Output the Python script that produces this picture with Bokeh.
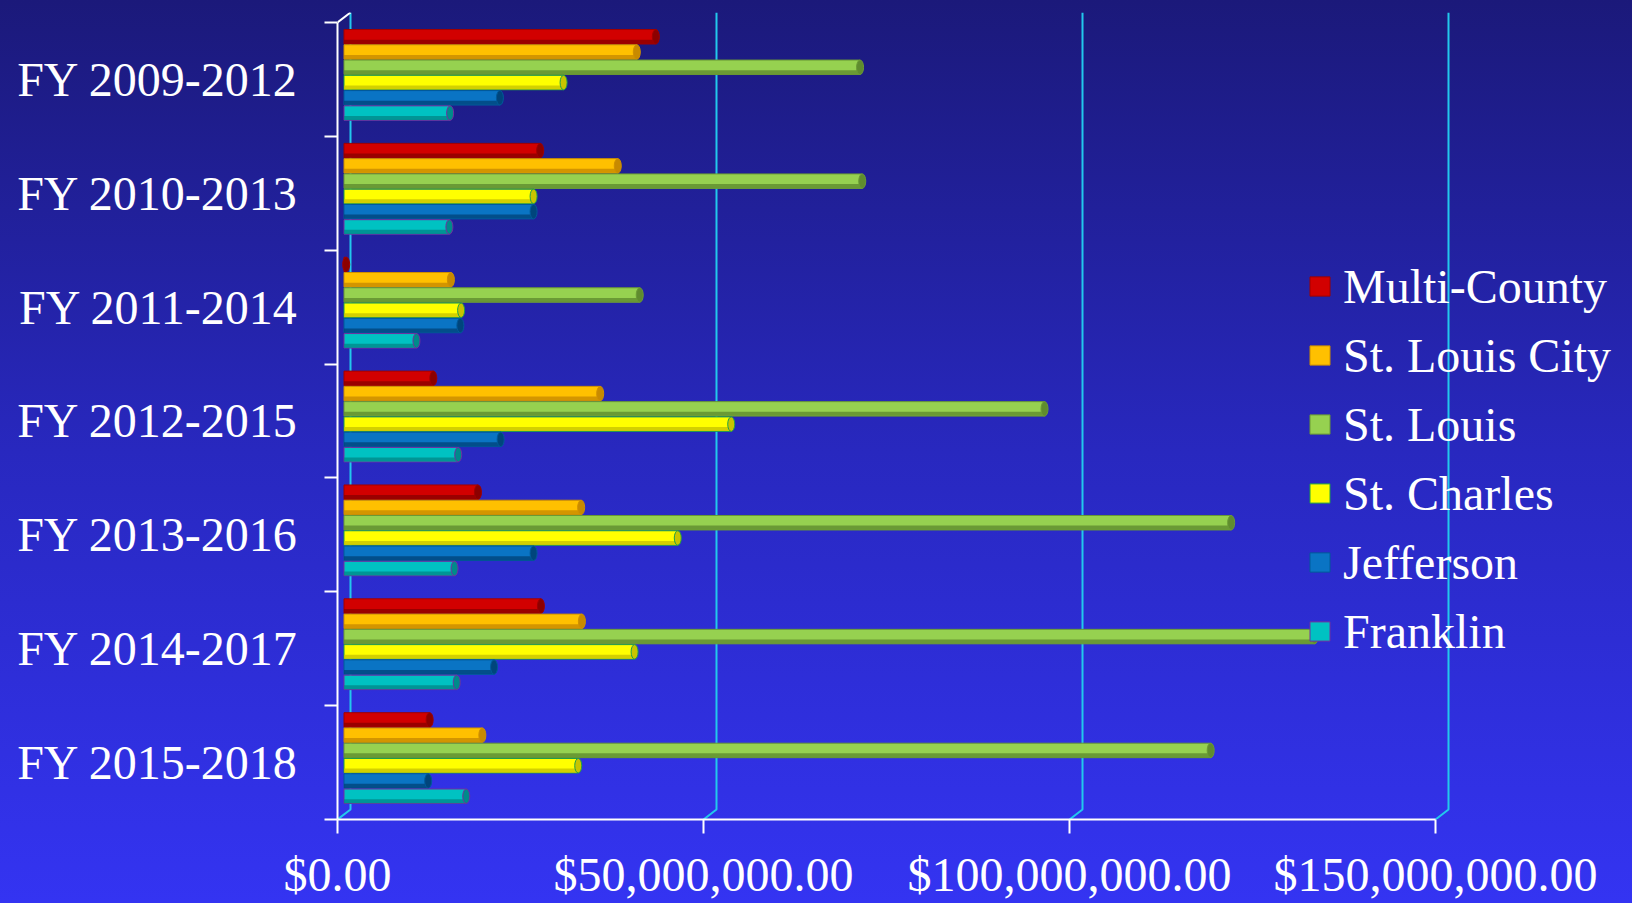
import numpy as np
from bokeh.plotting import figure
from bokeh.models import (ColumnDataSource, Range1d, LinearAxis, FixedTicker,
                          NumeralTickFormatter, Legend, LegendItem, GlobalInlineStyleSheet)
from bokeh.embed import file_html
from bokeh.resources import INLINE

# ---------------- data ----------------
categories = ["FY 2009-2012", "FY 2010-2013", "FY 2011-2014", "FY 2012-2015",
              "FY 2013-2016", "FY 2014-2017", "FY 2015-2018"]
series_names = ["Multi-County", "St. Louis City", "St. Louis", "St. Charles", "Jefferson", "Franklin"]
multi_county = [42.6e6, 26.8e6, 0.3e6, 12.2e6, 18.3e6, 26.9e6, 11.7e6]
st_louis_city = [40.0e6, 37.4e6, 14.6e6, 35.0e6, 32.4e6, 32.5e6, 18.9e6]
st_louis = [70.5e6, 70.8e6, 40.4e6, 95.7e6, 121.2e6, 132.6e6, 118.4e6]
st_charles = [30.0e6, 25.9e6, 16.0e6, 52.9e6, 45.6e6, 39.7e6, 32.0e6]
jefferson = [21.3e6, 25.9e6, 15.9e6, 21.4e6, 25.9e6, 20.5e6, 11.5e6]
franklin = [14.5e6, 14.4e6, 9.9e6, 15.6e6, 15.1e6, 15.4e6, 16.7e6]
x_ticks = [0, 50_000_000, 100_000_000, 150_000_000]

series_values = [multi_county, st_louis_city, st_louis, st_charles, jefferson, franklin]
fill_colors = ["#d20000", "#ffc000", "#96d150", "#ffff00", "#0a74c4", "#00c2c2"]
shade_colors = ["#8c0000", "#c88a00", "#5f8c2e", "#c8c400", "#00457c", "#008a8a"]
line_colors = ["#a00000", "#d09000", "#6a9a35", "#1f9e4a", "#005a9a", "#7030a0"]

# ---------------- layout ----------------
W, H = 1632, 903
FRAME_L, FRAME_R, FRAME_T, FRAME_B = 337, W, 12, 821
AX_TOP = 22
n = len(categories)
sx = (1435 - FRAME_L) / x_ticks[-1]          # px per dollar
X_END = (FRAME_R - FRAME_L) / sx
sy = (FRAME_B - AX_TOP) / n                   # px per category band
Y_END = n + (AX_TOP - FRAME_T) / sy
dxb = 13 / sx        # depth offset (back wall), x
dyb = 10 / sy        # depth offset (back wall), y

pitch = 15.3 / sy
bh = 14.5 / sy
group_shift = 4.5 / sy

grad = "linear-gradient(180deg, #1b197a 0%, #2828bf 50%, #3434f2 100%)"
css = GlobalInlineStyleSheet(css=(
    "html, body {margin:0 !important; padding:0; overflow:hidden; height:100%;"
    " background:" + grad + ";}"))

p = figure(width=W, height=H, x_range=Range1d(0, X_END), y_range=Range1d(0, Y_END),
           output_backend="svg", toolbar_location=None,
           x_axis_type=None, y_axis_type=None,
           min_border_left=FRAME_L, min_border_right=W - FRAME_R,
           min_border_top=FRAME_T, min_border_bottom=H - FRAME_B)
p.stylesheets = [css]
p.styles = {"background": grad}
p.background_fill_alpha = 0
p.border_fill_alpha = 0
p.outline_line_color = None
p.extra_x_ranges = {"mid": Range1d(-dxb / 2, X_END - dxb / 2)}

# gridlines on back wall with 3D floor diagonal
p.multi_line(xs=[[t + dxb, t + dxb, t] for t in x_ticks],
             ys=[[Y_END, dyb, 0] for _ in x_ticks],
             line_color="#22c8ec", line_width=2)
# top 3D edge of category axis
p.line(x=[0, dxb], y=[n, n + dyb], line_color="white", line_width=2)

# ---------------- bars ----------------
legend_items = []
for j, (name, vals) in enumerate(zip(series_names, series_values)):
    ys = np.array([(n - 1 - i) + 0.5 + (2.5 - j) * pitch + group_shift for i in range(n)])
    src = ColumnDataSource(dict(y=ys, y_shade=ys - bh * 0.34, right=vals, cat=categories))
    r = p.hbar(y="y", left=0, right="right", height=bh, source=src, x_range_name="mid",
               fill_color=fill_colors[j], line_color=line_colors[j], line_width=1)
    p.hbar(y="y_shade", left=0, right="right", height=bh * 0.28, source=src, x_range_name="mid",
           fill_color=shade_colors[j], fill_alpha=0.8, line_color=None)
    p.ellipse(x="right", y="y", width=7, height=14.5, width_units="screen", height_units="screen",
              source=src, x_range_name="mid",
              fill_color=shade_colors[j], line_color=line_colors[j], line_width=1)
    legend_items.append(LegendItem(label=name, renderers=[r]))

# ---------------- axes ----------------
xaxis = LinearAxis(ticker=FixedTicker(ticks=x_ticks),
                   formatter=NumeralTickFormatter(format="$0,0.00"),
                   bounds=(0, x_ticks[-1]))
yaxis = LinearAxis(ticker=FixedTicker(ticks=[i + 0.5 for i in range(n)],
                                      minor_ticks=list(range(n + 1))),
                   major_label_overrides={(n - 1 - i) + 0.5: c for i, c in enumerate(categories)},
                   bounds=(0, n))
for ax in (xaxis, yaxis):
    ax.axis_line_color = "white"
    ax.axis_line_width = 2
    ax.major_label_text_color = "white"
    ax.major_label_text_font = "Liberation Serif"
    ax.major_label_text_font_size = "48px"
    ax.minor_tick_line_color = "white"
    ax.minor_tick_line_width = 2
    ax.major_tick_line_color = "white"
    ax.major_tick_line_width = 2
    ax.major_tick_in = 0
    ax.minor_tick_in = 0

xaxis.major_tick_out = 14
xaxis.minor_tick_line_color = None
xaxis.major_label_standoff = 14

yaxis.major_tick_out = 0
yaxis.major_tick_line_color = None
yaxis.minor_tick_out = 13
yaxis.major_label_standoff = 26

p.add_layout(xaxis, "below")
p.add_layout(yaxis, "left")

# ---------------- legend ----------------
LH, LS = 55, 14
leg_top = 288 - LH / 2
leg_h = 6 * LH + 5 * LS
legend = Legend(items=legend_items, location=(1307 - FRAME_L, FRAME_B - (leg_top + leg_h)),
                orientation="vertical", background_fill_alpha=0, border_line_color=None,
                label_text_color="white", label_text_font="Liberation Serif",
                label_text_font_size="48px", glyph_width=25, glyph_height=24,
                label_standoff=11, spacing=LS, padding=0, margin=0, label_height=LH)
p.add_layout(legend)

open("out.html", "w").write(file_html(p, INLINE))
